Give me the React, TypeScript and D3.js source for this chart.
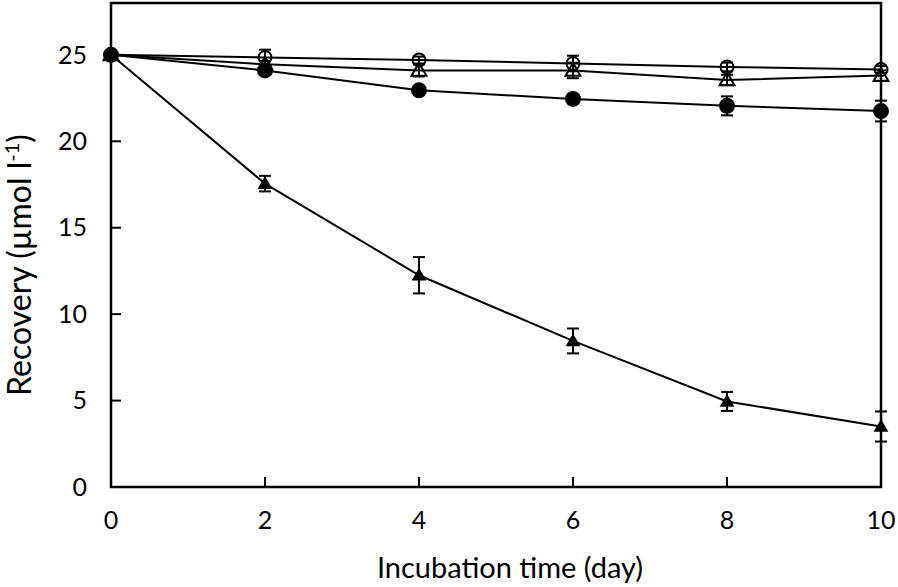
import React from "react";
import * as d3 from "d3";

const days = [0, 2, 4, 6, 8, 10];
const openCircle = [25.0, 24.85, 24.7, 24.5, 24.3, 24.15];
const openCircleErr = [0.1, 0.45, 0.2, 0.45, 0.25, 0.2];
const openTriangle = [25.0, 24.45, 24.1, 24.1, 23.55, 23.8];
const openTriangleErr = [0.1, 0.2, 0.35, 0.45, 0.3, 0.3];
const filledCircle = [25.0, 24.1, 22.95, 22.45, 22.05, 21.75];
const filledCircleErr = [0.1, 0.2, 0.2, 0.2, 0.55, 0.6];
const filledTriangle = [25.0, 17.55, 12.25, 8.45, 4.95, 3.5];
const filledTriangleErr = [0.1, 0.45, 1.05, 0.72, 0.55, 0.87];
const xTicks = [0, 2, 4, 6, 8, 10];
const yTicks = [0, 5, 10, 15, 20, 25];

const W = 898, H = 587;
const M = { left: 111, right: 881, top: 3, bottom: 487 };
const FONT = "Lato, 'Open Sans', sans-serif";

type Kind = "oc" | "ot" | "fc" | "ft";
const series: { kind: Kind; vals: number[]; err: number[] }[] = [
  { kind: "ft", vals: filledTriangle, err: filledTriangleErr },
  { kind: "fc", vals: filledCircle, err: filledCircleErr },
  { kind: "ot", vals: openTriangle, err: openTriangleErr },
  { kind: "oc", vals: openCircle, err: openCircleErr },
];

export default function App() {
  const x = d3.scaleLinear().domain([0, 10]).range([M.left, M.right]);
  const y = d3.scaleLinear().domain([0, 28]).range([M.bottom, M.top]);
  const line = d3.line<number>().x((_, i) => x(days[i])).y((v) => y(v));
  const tri = d3.symbol().type(d3.symbolTriangle).size(95)()!;

  const marker = (k: Kind, cx: number, cy: number, key: string) => {
    if (k === "fc") return <circle key={key} cx={cx} cy={cy} r={8} fill="#000" />;
    if (k === "oc") return <circle key={key} cx={cx} cy={cy} r={6.5} fill="none" stroke="#000" strokeWidth={2} />;
    if (k === "ft") return <path key={key} d={tri} transform={`translate(${cx},${cy + 1})`} fill="#000" />;
    return <path key={key} d={tri} transform={`translate(${cx},${cy + 1})`} fill="none" stroke="#000" strokeWidth={2} />;
  };

  return (
    <svg width={W} height={H} style={{ position: "absolute", left: 0, top: 0, background: "#fff" }}>
      <rect x={M.left} y={M.top} width={M.right - M.left} height={M.bottom - M.top} fill="none" stroke="#000" strokeWidth={2.5} />
      {yTicks.map((t) => (
        <g key={"y" + t}>
          <line x1={M.left} x2={M.left + 10} y1={y(t)} y2={y(t)} stroke="#000" strokeWidth={2} />
          <text x={87} y={y(t)} dy="0.35em" textAnchor="end" fontFamily={FONT} fontSize={25}>{t}</text>
        </g>
      ))}
      {xTicks.map((t) => (
        <g key={"x" + t}>
          <line x1={x(t)} x2={x(t)} y1={M.bottom} y2={M.bottom - 10} stroke="#000" strokeWidth={2} />
          <text x={x(t)} y={529} textAnchor="middle" fontFamily={FONT} fontSize={25}>{t}</text>
        </g>
      ))}
      <text x={510} y={578} textAnchor="middle" fontFamily={FONT} fontSize={29}>Incubation time (day)</text>
      <text transform={`translate(31,265) rotate(-90)`} textAnchor="middle" fontFamily={FONT} fontSize={32}>
        Recovery (µmol l<tspan dy="-12" fontSize={20}>-1</tspan><tspan dy="12">)</tspan>
      </text>
      {series.map((s) => (
        <path key={"l" + s.kind} d={line(s.vals)!} fill="none" stroke="#000" strokeWidth={2} />
      ))}
      {series.map((s) =>
        s.vals.map((v, i) => {
          const cx = x(days[i]);
          const e = s.err[i];
          if (e < 0.15) return null;
          return (
            <g key={"e" + s.kind + i} stroke="#000" strokeWidth={2}>
              <line x1={cx} x2={cx} y1={y(v - e)} y2={y(v + e)} />
              <line x1={cx - 6} x2={cx + 6} y1={y(v - e)} y2={y(v - e)} />
              <line x1={cx - 6} x2={cx + 6} y1={y(v + e)} y2={y(v + e)} />
            </g>
          );
        })
      )}
      {series.map((s) => s.vals.map((v, i) => marker(s.kind, x(days[i]), y(v), "m" + s.kind + i)))}
    </svg>
  );
}
